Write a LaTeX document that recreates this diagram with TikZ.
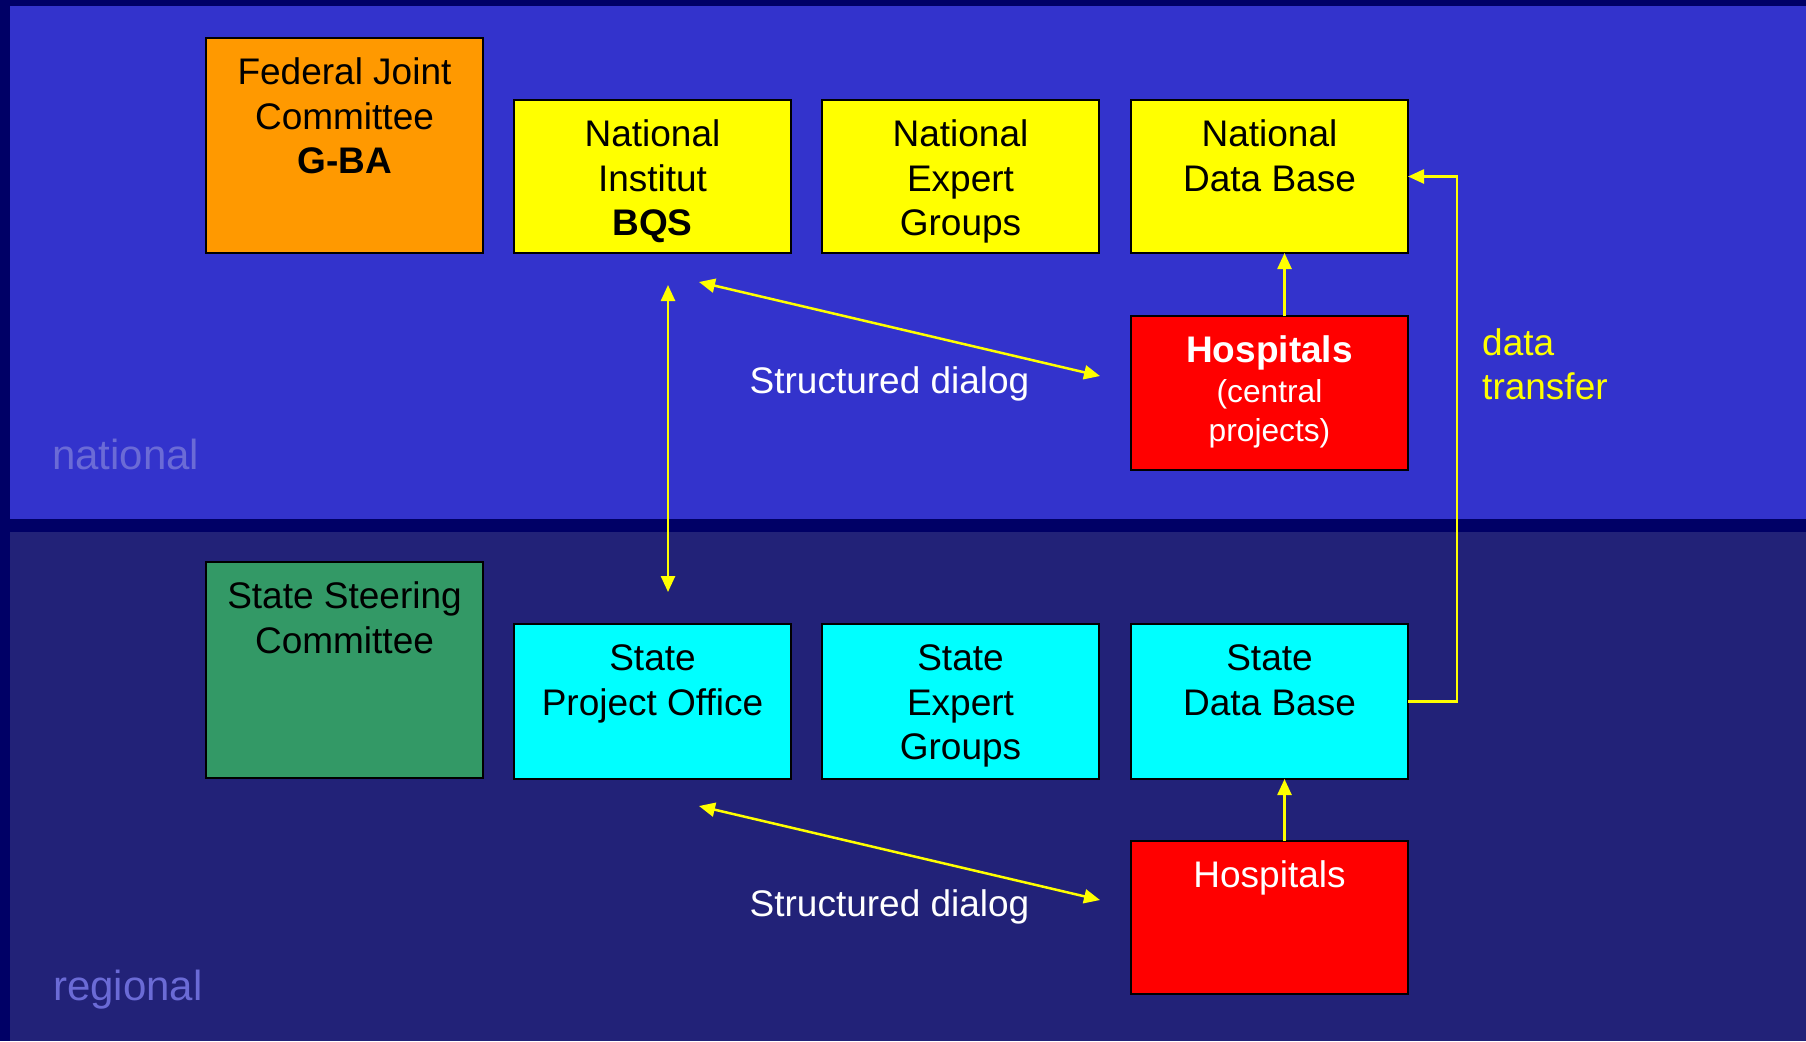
\documentclass[tikz,border=0pt]{standalone}
\usepackage{fontspec}
\setmainfont{Liberation Sans}
\usetikzlibrary{arrows.meta}
\definecolor{bgnavy}{HTML}{000066}
\definecolor{upperpanel}{HTML}{3333CC}
\definecolor{lowerpanel}{HTML}{222278}
\definecolor{levelcol}{HTML}{6B6BD6}
\definecolor{orangebox}{HTML}{FF9900}
\definecolor{yellowbox}{HTML}{FFFF00}
\definecolor{redbox}{HTML}{FF0000}
\definecolor{cyanbox}{HTML}{00FFFF}
\definecolor{greenbox}{HTML}{339966}
\newcommand\bt[3]{\parbox[t][#2pt][t]{#1pt}{\centering\rule{0pt}{46.5pt}#3\par}}
\begin{document}
\begin{tikzpicture}[x=1pt,y=-1pt,
  box/.style={draw=black, line width=2pt, inner sep=0pt, outer sep=0pt, anchor=north west,
    font=\fontsize{37}{44.5}\selectfont},
  arr/.style={draw=yellowbox, line width=2.5pt, -{Triangle[length=16pt,width=14pt]}},
  darr/.style={draw=yellowbox, line width=2.5pt, {Triangle[length=16pt,width=14pt]}-{Triangle[length=16pt,width=14pt]}},
  plain/.style={draw=yellowbox, line width=2.5pt},
  level/.style={text=levelcol, font=\fontsize{42}{48}\selectfont, inner sep=0pt, anchor=base west},
  wtext/.style={text=white, font=\fontsize{37}{44.5}\selectfont, inner sep=0pt, anchor=base}]
\useasboundingbox (0,0) rectangle (1806,1041);
\fill[bgnavy] (0,0) rectangle (1806,1041);
\fill[upperpanel] (10,6) rectangle (1806,519);
\fill[lowerpanel] (10,532) rectangle (1806,1041);

\node[level] (lnat) at (52,469) {national};
\node[level] (lreg) at (53,1000) {regional};

% national boxes
\node[box, fill=orangebox] (gba) at (206,38) {\bt{277}{215}{Federal Joint\\Committee\\\textbf{G-BA}}};
\node[box, fill=yellowbox] (bqs) at (514,100) {\bt{277}{153}{National\\Institut\\\textbf{BQS}}};
\node[box, fill=yellowbox] (neg) at (822,100) {\bt{277}{153}{National\\Expert\\Groups}};
\node[box, fill=yellowbox] (ndb) at (1131,100) {\bt{277}{153}{National\\Data Base}};
\node[box, fill=redbox, text=white, font=\fontsize{31.7}{39.5}\selectfont] (hc) at (1131,316)
  {\bt{277}{154}{{\fontsize{37}{39.5}\selectfont\bfseries Hospitals}\\(central\\projects)}};

% regional boxes
\node[box, fill=greenbox] (ssc) at (206,562) {\bt{277}{216}{State Steering\\Committee}};
\node[box, fill=cyanbox] (spo) at (514,624) {\bt{277}{155}{State\\Project Office}};
\node[box, fill=cyanbox] (seg) at (822,624) {\bt{277}{155}{State\\Expert\\Groups}};
\node[box, fill=cyanbox] (sdb) at (1131,624) {\bt{277}{155}{State\\Data Base}};
\node[box, fill=redbox, text=white] (hr) at (1131,841) {\bt{277}{153}{Hospitals}};

% texts
\node[wtext] (sd1) at (889.5,393) {Structured dialog};
\node[wtext] (sd2) at (889.5,916) {Structured dialog};
\node[text=yellowbox, font=\fontsize{37}{44.5}\selectfont, inner sep=0pt, anchor=base west] (dt) at (1482,355)
  {\parbox[t]{200pt}{\raggedright data\\transfer}};

% free ends
\coordinate (vt) at (668,285);
\coordinate (vb) at (668,592);
\coordinate (d1) at (699,282);
\coordinate (d2) at (1100,376);
\coordinate (d3) at (699,806);
\coordinate (d4) at (1100,900);
\coordinate (dtx) at (1457,0);

% connectors
\draw[darr] (vt) -- (vb);
\draw[darr] (d1) -- (d2);
\draw[darr] (d3) -- (d4);
\draw[arr] ([xshift=15pt]hc.north) -- ([xshift=15pt]ndb.south);
\draw[arr] ([xshift=15pt]hr.north) -- ([xshift=15pt]sdb.south);
\draw[arr] (sdb.east) -- (sdb.east -| dtx) -- (ndb.east -| dtx) -- (ndb.east);
\end{tikzpicture}
\end{document}
